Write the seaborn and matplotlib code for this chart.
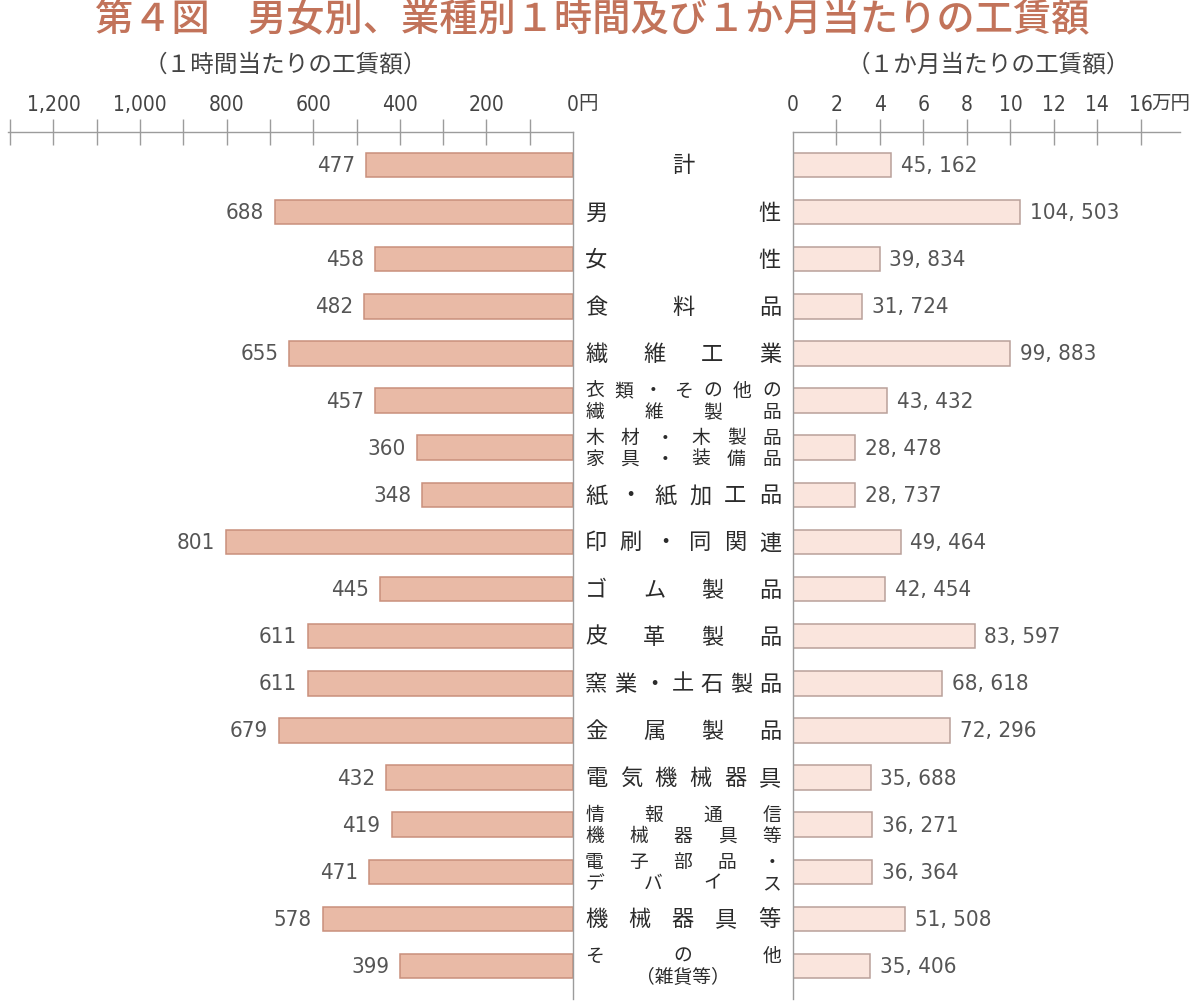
import pandas as pd
import matplotlib
matplotlib.use("Agg")
import matplotlib.pyplot as plt
from matplotlib import font_manager
import seaborn as sns

# data
categories = [
    "計", "男性", "女性", "食料品", "繊維工業",
    "衣類・その他の\n繊維製品", "木材・木製品\n家具・装備品",
    "紙・紙加工品", "印刷・同関連", "ゴム製品", "皮革製品",
    "窯業・土石製品", "金属製品", "電気機械器具",
    "情報通信\n機械器具等", "電子部品・\nデバイス", "機械器具等",
    "その他\n（雑貨等）",
]
hourly_yen = [477, 688, 458, 482, 655, 457, 360, 348, 801, 445,
              611, 611, 679, 432, 419, 471, 578, 399]
monthly_yen = [45162, 104503, 39834, 31724, 99883, 43432, 28478, 28737, 49464, 42454,
               83597, 68618, 72296, 35688, 36271, 36364, 51508, 35406]
hourly_ticks = [0, 200, 400, 600, 800, 1000, 1200]
hourly_minor = [100, 300, 500, 700, 900, 1100, 1300]
monthly_ticks = [0, 2, 4, 6, 8, 10, 12, 14, 16]

title = "第４図　男女別、業種別１時間及び１か月当たりの工賃額"
left_sub = "（１時間当たりの工賃額）"
right_sub = "（１か月当たりの工賃額）"

sns.set_theme(style="white")
plt.rcParams["font.family"] = ["Noto Sans CJK JP", "DejaVu Sans"]

# narrow face for the numbers, if one is around
num_fp = None
for f in font_manager.fontManager.ttflist:
    if f.name == "Liberation Sans Narrow" and f.weight in (400, "normal", "regular") and f.style == "normal":
        num_fp = f.fname
        break
if num_fp is None:
    for f in font_manager.fontManager.ttflist:
        if f.name == "DejaVu Sans" and "Condensed" in f.fname and "Bold" not in f.fname \
                and "Oblique" not in f.fname:
            num_fp = f.fname
            break


def num_font(size):
    if num_fp:
        return font_manager.FontProperties(fname=num_fp, size=size)
    return font_manager.FontProperties(family="Liberation Sans", size=size)


W, H = 1200, 1003
fig = plt.figure(figsize=(W / 100, H / 100), dpi=100)

top_px, bot_px = 133, 1000
y0 = 1 - bot_px / H
hh = (bot_px - top_px) / H
ylim = (17.70, -0.70)

axL = fig.add_axes([8 / W, y0, (573 - 8) / W, hh])
axM = fig.add_axes([573 / W, y0, 220 / W, hh])
axR = fig.add_axes([793 / W, y0, (1180 - 793) / W, hh])

df = pd.DataFrame({"cat": categories, "hour": hourly_yen,
                   "month": [v / 10000 for v in monthly_yen]})

line_col = "#9c9c9c"
sns.barplot(data=df, x="hour", y="cat", ax=axL, orient="h", color="#e9baa6",
            saturation=1, edgecolor="#c98f7c", linewidth=1.1, width=0.52)
sns.barplot(data=df, x="month", y="cat", ax=axR, orient="h", color="#fae5dd",
            saturation=1, edgecolor="#b9a09a", linewidth=1.1, width=0.52)

for ax in (axL, axR):
    ax.set_ylim(*ylim)
    ax.set_xlabel("")
    ax.set_ylabel("")
    ax.tick_params(axis="y", left=False, right=False, labelleft=False)
    for s in ax.spines.values():
        s.set_visible(False)
    ax.spines["top"].set_visible(True)
    ax.spines["top"].set_color(line_col)
    ax.spines["top"].set_linewidth(1.0)
    ax.xaxis.set_ticks_position("top")
    ax.tick_params(axis="x", which="both", direction="inout", length=18.5, width=1.0,
                   color=line_col, top=True, bottom=False, labeltop=True,
                   labelbottom=False, pad=4, labelcolor="#444444")

axL.set_xlim(1305, 0)
axL.spines["right"].set_visible(True)
axL.spines["right"].set_color(line_col)
axL.spines["right"].set_linewidth(1.0)
axL.set_xticks(hourly_ticks)
axL.set_xticks(hourly_minor, minor=True)
axL.set_xticklabels(["0"] + [f"{v:,}" for v in hourly_ticks[1:]], fontproperties=num_font(15))

axR.set_xlim(0, 17.8)
axR.spines["left"].set_visible(True)
axR.spines["left"].set_color(line_col)
axR.spines["left"].set_linewidth(1.0)
axR.set_xticks(monthly_ticks)
axR.set_xticklabels([str(v) for v in monthly_ticks], fontproperties=num_font(15))

# no tick mark at the zero corner
axL.xaxis.get_major_ticks()[0].tick2line.set_visible(False)
axR.xaxis.get_major_ticks()[0].tick2line.set_visible(False)

# unit suffixes
axL.annotate("円", xy=(0, 1), xycoords=axL.get_xaxis_transform(), xytext=(3.5, 13.5),
             textcoords="offset points", ha="left", va="bottom", fontsize=14, color="#444444")
axR.annotate("万円", xy=(16, 1), xycoords=axR.get_xaxis_transform(), xytext=(7.5, 13.5),
             textcoords="offset points", ha="left", va="bottom", fontsize=14, color="#444444")

# value labels
for i, v in enumerate(hourly_yen):
    axL.annotate(f"{v}", xy=(v, i), xytext=(-8, 0), textcoords="offset points",
                 ha="right", va="center", color="#555555", fontproperties=num_font(16))
for i, v in enumerate(monthly_yen):
    axR.annotate(f"{v:,}".replace(",", ", "), xy=(v / 10000, i), xytext=(7, 0),
                 textcoords="offset points", ha="left", va="center",
                 color="#555555", fontproperties=num_font(16))

# category labels, justified across the middle column
axM.set_ylim(*ylim)
axM.set_xlim(0, 1)
axM.axis("off")
mid_w = 220
x_left, x_right = 12 / mid_w, 208 / mid_w
trans = axM.get_yaxis_transform()


def justify(text, y, size):
    cw = size * 100 / 72 / mid_w
    n = len(text)
    if n == 1 or text.startswith("（"):
        axM.text(0.5, y, text, transform=trans, ha="center", va="center",
                 fontsize=size, color="#2b2b2b")
        return
    a, b = x_left + cw / 2, x_right - cw / 2
    for k, ch in enumerate(text):
        axM.text(a + (b - a) * k / (n - 1), y, ch, transform=trans, ha="center",
                 va="center", fontsize=size, color="#2b2b2b")


for i, lab in enumerate(categories):
    parts = lab.split("\n")
    if len(parts) == 1:
        justify(parts[0], i, 16)
    else:
        justify(parts[0], i - 0.225, 13.5)
        justify(parts[1], i + 0.225, 13.5)

# titles
fig.text(592 / W, 1 - 20 / H, title, ha="center", va="center", fontsize=27.5,
         color="#c2735a", fontweight="medium")
fig.text(285 / W, 1 - 65 / H, left_sub, ha="center", va="center", fontsize=17,
         color="#444444")
fig.text(988 / W, 1 - 65 / H, right_sub, ha="center", va="center", fontsize=17,
         color="#444444")

fig.savefig("out.png", dpi=100)
